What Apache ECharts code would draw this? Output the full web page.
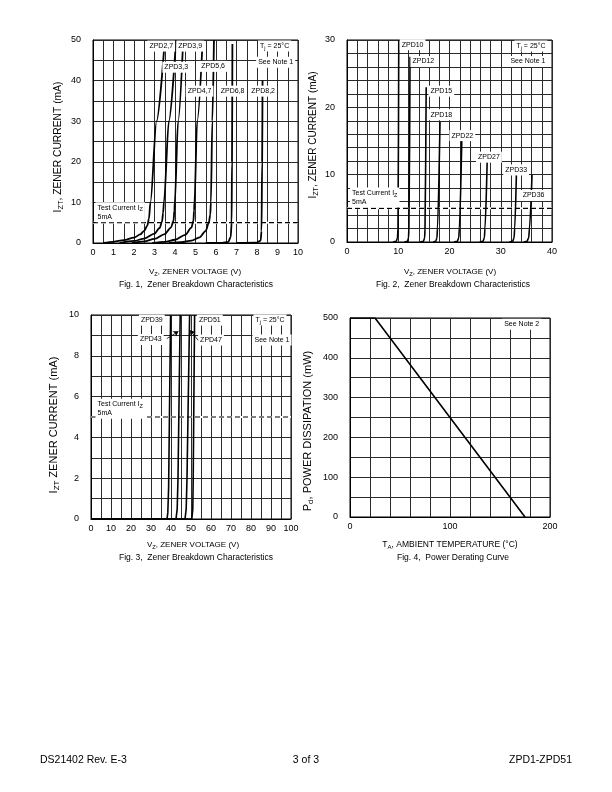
<!DOCTYPE html>
<html>
<head>
<meta charset="utf-8">
<script src="https://cdn.jsdelivr.net/npm/echarts@6/dist/echarts.min.js"></script>
<style>html,body{margin:0;padding:0;background:#fff}#c{width:612px;height:792px}</style>
</head>
<body>
<div id="c"></div>
<script>
// ---------- DATA ----------
// Fig. 1 curves [Vz (V), Izt (mA)]
const fig1_ZPD2_7 = [[0.5,0],[1,0.3],[1.5,0.7],[2,1.3],[2.3,2.1],[2.5,3.0],[2.65,4.3],[2.73,6],[2.8,10],[3.1,30],[3.5,50]];
const fig1_ZPD3_3 = [[1.3,0],[2,0.5],[2.5,1.1],[3,2.3],[3.25,3.7],[3.37,5.3],[3.42,7.5],[3.46,10],[3.7,30],[4.05,50]];
const fig1_ZPD3_9 = [[1.9,0],[2.5,0.4],[3,1],[3.5,2.2],[3.8,3.8],[3.93,5.5],[3.97,8],[3.99,10],[4.15,30],[4.4,50]];
const fig1_ZPD4_7 = [[2.9,0],[3.5,0.3],[4,0.8],[4.5,2],[4.8,3.8],[4.9,5.5],[4.93,8],[4.95,10],[5.08,30],[5.35,50]];
const fig1_ZPD5_6 = [[3.7,0],[4.3,0.2],[4.8,0.6],[5.2,1.4],[5.5,3],[5.65,5],[5.72,7],[5.75,10],[5.82,30],[5.9,50]];
const fig1_ZPD6_8 = [[5.5,0],[6.3,0.05],[6.6,0.3],[6.72,1.5],[6.76,5],[6.78,20],[6.8,49]];
const fig1_ZPD8_2 = [[7,0],[8.0,0.1],[8.18,0.6],[8.22,3],[8.25,20],[8.27,40]];
const fig1Labels = [[3.33,48.5,'ZPD2,7'],[4.74,48.5,'ZPD3,9'],[4.06,43.3,'ZPD3,3'],[5.86,43.5,'ZPD5,6'],[5.2,37.4,'ZPD4,7'],[6.81,37.4,'ZPD6,8'],[8.3,37.4,'ZPD8,2'],[8.86,48.5,'T{s|j} = 25°C'],[8.91,44.5,'See Note 1']];
const fig1TestLabel = [0.1, 7.6, 'Test Current I{s|Z}\n5mA'];

// Fig. 2 curves
const fig2_ZPD10 = [[9,0],[9.6,0.1],[9.85,0.6],[9.95,2],[10.1,30]];
const fig2_ZPD12 = [[11.2,0],[11.8,0.1],[12.0,0.6],[12.08,2],[12.3,27.5]];
const fig2_ZPD15 = [[14.3,0],[14.9,0.1],[15.15,0.6],[15.22,2],[15.45,23]];
const fig2_ZPD18 = [[16.8,0],[17.3,0.1],[17.55,0.6],[17.65,2],[18.15,17.9]];
const fig2_ZPD22 = [[20.9,0],[21.5,0.1],[21.8,0.6],[21.92,2],[22.4,15.3]];
const fig2_ZPD27 = [[25.9,0],[26.5,0.1],[26.8,0.6],[26.92,2],[27.35,12]];
const fig2_ZPD33 = [[31.7,0],[32.3,0.1],[32.6,0.6],[32.72,2],[33.05,10]];
const fig2_ZPD36 = [[34.5,0],[35.1,0.1],[35.45,0.6],[35.6,2],[36.1,10]];
const fig2Labels = [[12.8,29.3,'ZPD10'],[14.9,26.8,'ZPD12'],[18.4,22.4,'ZPD15'],[18.4,18.9,'ZPD18'],[22.5,15.8,'ZPD22'],[27.7,12.6,'ZPD27'],[33.0,10.7,'ZPD33'],[36.4,6.9,'ZPD36'],[35.9,29.1,'T{s|j} = 25°C'],[35.3,26.8,'See Note 1']];
const fig2TestLabel = [0.5, 6.6, 'Test Current I{s|Z}\n5mA'];

// Fig. 3 curves
const fig3_ZPD39 = [[0,0],[38,0],[38.4,0.3],[38.8,1.5],[39.8,10]];
const fig3_ZPD43 = [[0,0],[42.5,0],[43.1,0.5],[43.5,2],[44.6,10]];
const fig3_ZPD47 = [[0,0],[47,0],[47.6,0.5],[48.0,2],[49.3,10]];
const fig3_ZPD51 = [[0,0],[50.4,0],[50.9,0.5],[51.1,2],[51.8,10]];
const fig3Labels = [[30.4,9.75,'ZPD39'],[59.4,9.75,'ZPD51'],[29.9,8.8,'ZPD43'],[60,8.77,'ZPD47'],[89.5,9.75,'T{s|j} = 25°C'],[90.5,8.77,'See Note 1']];
const fig3Arrows = [[[37.9,8.84],[43.7,9.2]],[[53.6,8.76],[49.5,9.25]]];
const fig3TestLabel = [2, 5.4, 'Test Current I{s|Z}\n5mA'];

// Fig. 4 derating curve [TA (°C), Pd (mW)]
const fig4_Pd = [[0,500],[25,500],[175,0]];
const fig4Labels = [[171.7,484,'See Note 2']];

// test current (mA)
const testCurrent = 5;

// ---------- CHART ----------
const FONT = '"Liberation Sans", Arial, Helvetica, sans-serif';
const chart = echarts.init(document.getElementById('c'), null, {renderer:'canvas'});

const grids = [
  {left:93, top:40, width:205, height:203},
  {left:347, top:40, width:205, height:202},
  {left:91, top:315, width:200, height:204},
  {left:350, top:318, width:200, height:199}
].map(g => Object.assign({show:true, borderColor:'#000', borderWidth:1, containLabel:false}, g));

function fmtEvery(step){
  return v => (Math.abs(v/step - Math.round(v/step)) < 1e-6 ? String(Math.round(v*1000)/1000) : '');
}
function axis(gi, min, max, interval, labelStep, isY){
  return {
    type:'value', gridIndex:gi, min:min, max:max, interval:interval,
    axisLine:{show:true, onZero:false, lineStyle:{color:'#000', width:1}},
    axisTick:{show:false},
    splitLine:{show:true, lineStyle:{color:'#2a2a2a', width:1}},
    axisLabel:{show:true, color:'#000', fontFamily:FONT, fontSize:9, margin: isY ? 12 : 5,
      formatter: fmtEvery(labelStep), showMinLabel:true, showMaxLabel:true, hideOverlap:false},
  };
}
const xAxes = [axis(0,0,10,0.5,1,false), axis(1,0,40,2,10,false), axis(2,0,100,5,10,false), axis(3,0,200,20,100,false)];
const yAxes = [axis(0,0,50,5,10,true), axis(1,0,30,2,10,true), axis(2,0,10,1,2,true), axis(3,0,500,50,100,true)];

const series = [];
function curve(data, gi, w){
  series.push({type:'line', xAxisIndex:gi, yAxisIndex:gi, data:data, showSymbol:false, symbol:'none',
    smooth: gi<2 ? 0.3 : false, smoothMonotone:'x',
    lineStyle:{color:'#000', width:w||1.6}, z:3, silent:true, animation:false});
}
[fig1_ZPD2_7,fig1_ZPD3_3,fig1_ZPD3_9,fig1_ZPD4_7,fig1_ZPD5_6,fig1_ZPD6_8,fig1_ZPD8_2].forEach(d=>curve(d,0,1.8));
[fig2_ZPD10,fig2_ZPD12,fig2_ZPD15,fig2_ZPD18,fig2_ZPD22,fig2_ZPD27,fig2_ZPD33,fig2_ZPD36].forEach(d=>curve(d,1,1.6));
[fig3_ZPD39,fig3_ZPD43,fig3_ZPD47,fig3_ZPD51].forEach(d=>curve(d,2,1.6));
curve(fig4_Pd,3,1.6);

// dashed test current lines (white underlay hides the grid line beneath)
[[0,10],[1,40],[2,100]].forEach(([gi,xmax])=>{
  series.push({type:'line', xAxisIndex:gi, yAxisIndex:gi, data:[[0,testCurrent],[xmax,testCurrent]], showSymbol:false, symbol:'none',
    lineStyle:{color:'#fff', width:2}, z:2, silent:true, animation:false});
  series.push({type:'line', xAxisIndex:gi, yAxisIndex:gi, data:[[0,testCurrent],[xmax,testCurrent]], showSymbol:false, symbol:'none',
    lineStyle:{color:'#000', width:1.2, type:[5,3]}, z:4, silent:true, animation:false});
});

const rich = {s:{fontSize:5.5, fontFamily:FONT, padding:[4,0,0,0], lineHeight:6, color:'#000'}};
function labelSeries(list, gi, pos){
  series.push({type:'scatter', xAxisIndex:gi, yAxisIndex:gi, symbol:'circle', symbolSize:1,
    itemStyle:{color:'rgba(255,255,255,0)'}, z:6, silent:true, animation:false,
    data: list.map(l=>({value:[l[0],l[1]], name:l[2]})),
    label:{show:true, position:pos, distance:0, formatter:p=>p.name, color:'#000', opacity:1, fontFamily:FONT, fontSize:7,
      backgroundColor:'#fff', padding:[1,2,1,2], lineHeight:9, align: pos==='right' ? 'left' : 'center', rich:rich}
  });
}
labelSeries(fig1Labels,0,'inside'); labelSeries(fig2Labels,1,'inside'); labelSeries(fig3Labels,2,'inside'); labelSeries(fig4Labels,3,'inside');
labelSeries([fig1TestLabel],0,'right'); labelSeries([fig2TestLabel],1,'right'); labelSeries([fig3TestLabel],2,'right');

series.push({type:'lines', coordinateSystem:'cartesian2d', xAxisIndex:2, yAxisIndex:2, z:7, silent:true, animation:false,
  symbol:['none','arrow'], symbolSize:[0,5], lineStyle:{color:'#000', width:0.8, opacity:1},
  data: fig3Arrows.map(a=>({coords:a}))});

// ---------- TEXT ----------
function mkRich(fs){
  return {
    m:{fontSize:fs, fontFamily:FONT, lineHeight:Math.round(fs*1.3), fill:'#000'},
    s:{fontSize:fs*0.72, fontFamily:FONT, lineHeight:Math.round(fs*0.72), padding:[Math.round(fs*0.55),0,0,0]}
  };
}
function txt(x,y,text,fs,opts){
  opts = opts || {};
  const el = {type:'text', x:x, y:y, silent:true, z:10,
    style:Object.assign({text:text, fill:'#000', font:fs+'px '+FONT, align:'center', verticalAlign:'middle', rich:mkRich(fs)}, opts.style||{})};
  if (opts.rotation !== undefined) el.rotation = opts.rotation;
  return el;
}
const R = Math.PI/2;
const graphics = [
  txt(58,147,'{m|I}{s|ZT}{m|, ZENER CURRENT (mA)}',10.3,{rotation:R}),
  txt(313,135,'{m|I}{s|ZT}{m|, ZENER CURRENT (mA)}',10,{rotation:R}),
  txt(54,425,'{m|I}{s|ZT}{m| ZENER CURRENT (mA)}',11,{rotation:R}),
  txt(308,431,'{m|P}{s|d}{m|, POWER DISSIPATION (mW)}',11,{rotation:R}),
  txt(195,272,'{m|V}{s|Z}{m|, ZENER VOLTAGE (V)}',8),
  txt(450,272,'{m|V}{s|Z}{m|, ZENER VOLTAGE (V)}',8),
  txt(193,545,'{m|V}{s|Z}{m|, ZENER VOLTAGE (V)}',8),
  txt(450,545,'{m|T}{s|A}{m|, AMBIENT TEMPERATURE (°C)}',8.5),
  txt(196,284.5,'Fig. 1,  Zener Breakdown Characteristics',8.5),
  txt(453,284.5,'Fig. 2,  Zener Breakdown Characteristics',8.5),
  txt(196,557.5,'Fig. 3,  Zener Breakdown Characteristics',8.5),
  txt(453,557.5,'Fig. 4,  Power Derating Curve',8.5),
  txt(40,760,'DS21402 Rev. E-3',10.5,{style:{align:'left'}}),
  txt(306,760,'3 of 3',10.5),
  txt(572,760,'ZPD1-ZPD51',10.5,{style:{align:'right'}})
];

chart.setOption({
  animation:false,
  backgroundColor:'#fff',
  textStyle:{fontFamily:FONT},
  grid:grids, xAxis:xAxes, yAxis:yAxes, series:series,
  graphic:{elements:graphics}
});
</script>
</body>
</html>
